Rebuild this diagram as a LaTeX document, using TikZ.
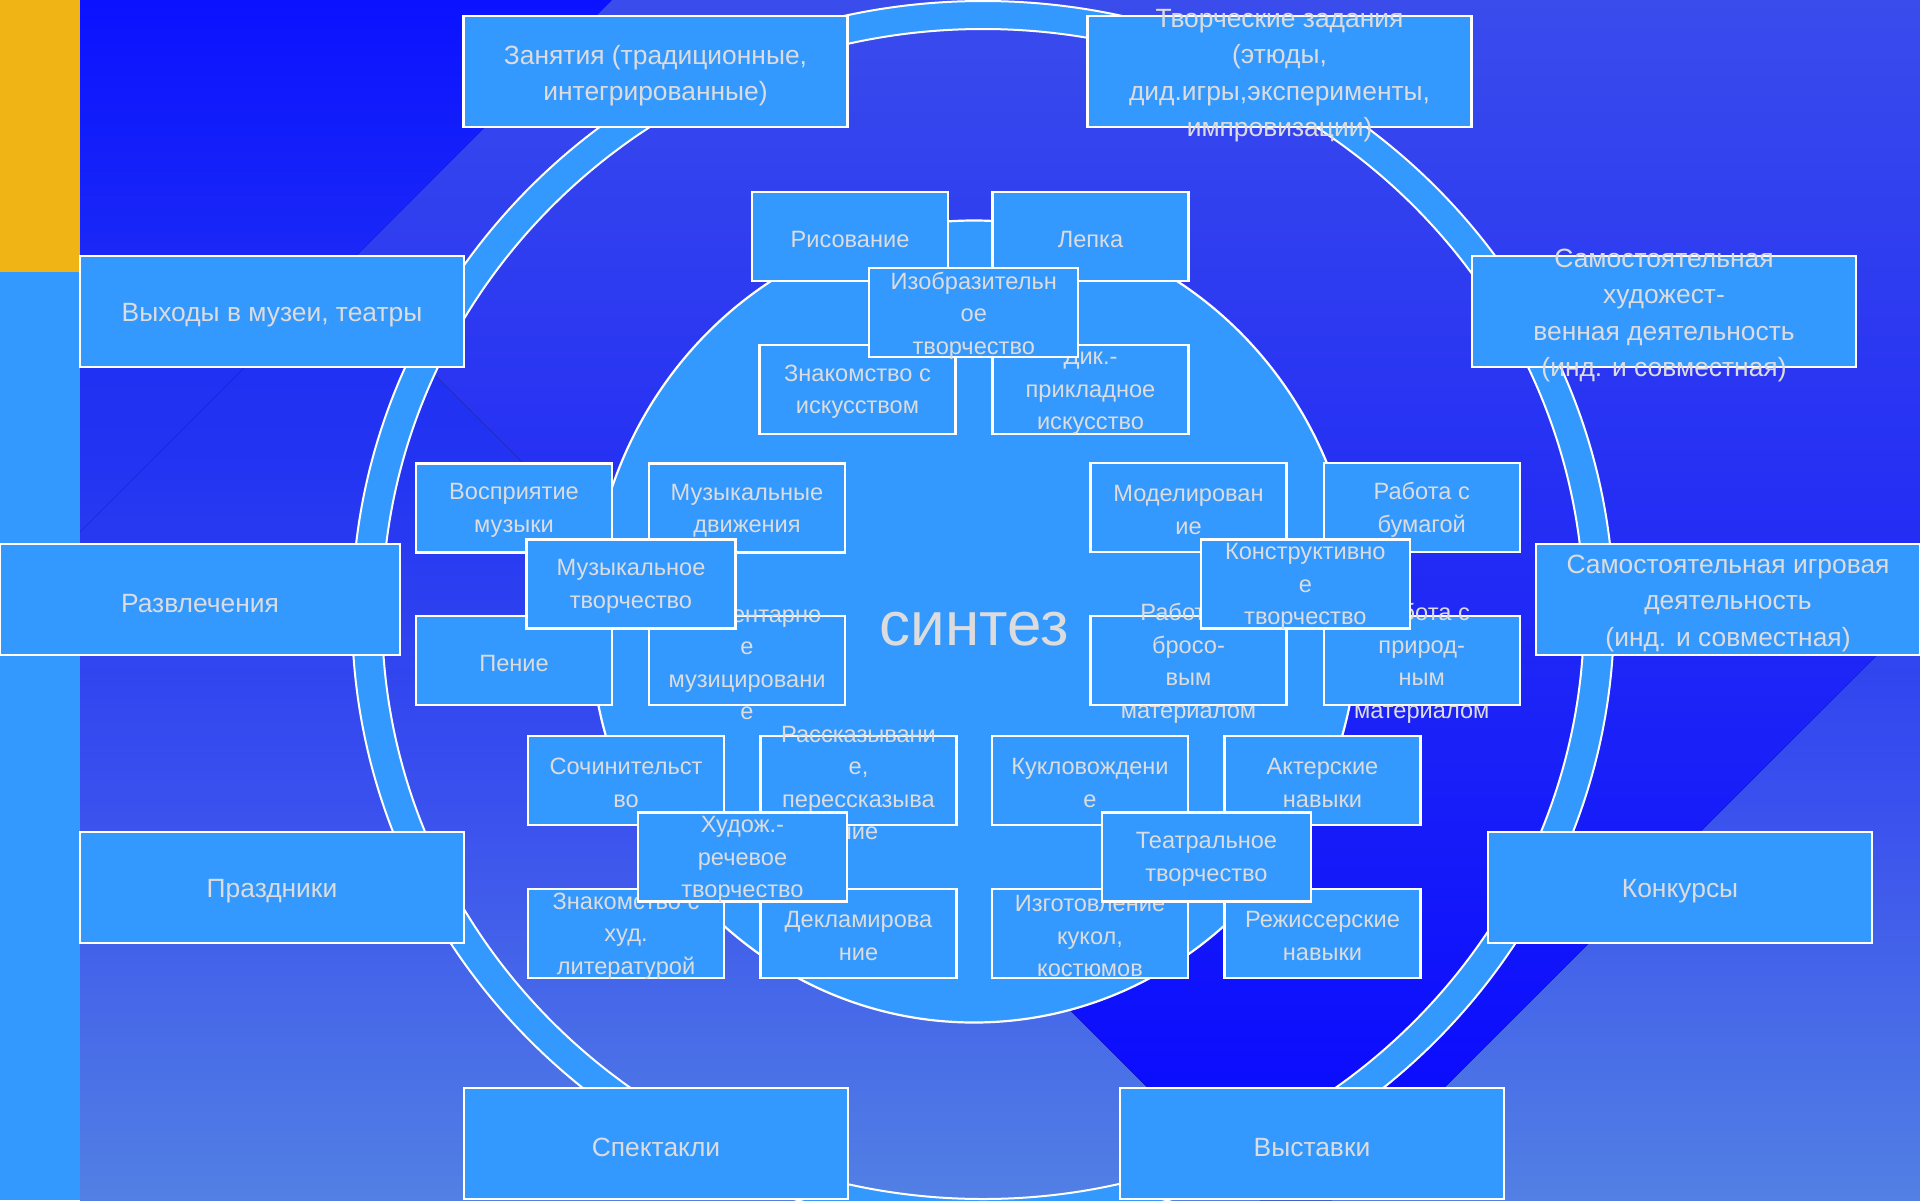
\documentclass[tikz,border=0pt]{standalone}
\usepackage{fontspec}
\setmainfont{Liberation Sans}
\usepackage{xcolor}
\usepackage{tikz}

\definecolor{boxblue}{RGB}{51,153,255}
\definecolor{txtgray}{RGB}{220,220,222}
\definecolor{stripor}{RGB}{240,180,20}
\definecolor{bgtop}{RGB}{26,40,246}
\definecolor{bgdk}{RGB}{34,51,242}
\definecolor{bgmid}{RGB}{58,80,238}
\definecolor{bgbot}{RGB}{82,128,228}
\definecolor{darktop}{RGB}{10,18,255}
\definecolor{darkmid}{RGB}{33,49,243}
\definecolor{darkbot}{RGB}{40,58,241}
\definecolor{bandtop}{RGB}{58,76,236}
\definecolor{bandbot}{RGB}{6,6,255}

\pgfdeclareverticalshading{bgshade}{100bp}{color(0bp)=(bgbot); color(25bp)=(bgbot); color(41.67bp)=(bgmid); color(56.25bp)=(bgdk); color(75bp)=(bgtop); color(100bp)=(bgtop)}
\pgfdeclareverticalshading{dkshade}{100bp}{color(0bp)=(darkbot); color(25bp)=(darkbot); color(32.71bp)=(bgdk); color(40.51bp)=(darkmid); color(75bp)=(darktop); color(100bp)=(darktop)}

\begin{document}
\begin{tikzpicture}[x=1pt,y=-1pt,
	obox/.style={draw=white,line width=2.2pt,fill=boxblue,inner sep=0pt,minimum width=384pt,minimum height=111pt},
	ibox/.style={draw=white,line width=2.2pt,fill=boxblue,inner sep=0pt,minimum width=196pt,minimum height=89pt},
	cbox/.style={ibox,minimum width=209pt},
	otxt/.style={text=txtgray,align=center,inner sep=0pt,yshift=-4pt,font=\fontsize{26.4}{36.5}\selectfont},
	itxt/.style={text=txtgray,align=center,inner sep=0pt,yshift=-2.5pt,font=\fontsize{23.6}{32.5}\selectfont}]

	\useasboundingbox (0,0) rectangle (1920,1200);

	% background
	\fill[shading=bgshade] (80,0) rectangle (1920,1200);
	\fill[shading=dkshade] (80,0) -- (612,0) -- (80,532) -- cycle;
	\fill[top color=bandtop,bottom color=bandbot] (612,0) -- (1920,0) -- (1920,612) -- (1332,1200) -- (1260,1200) -- (336,276) -- cycle;
	\fill[stripor] (0,0) rectangle (80,272);
	\fill[boxblue] (0,272) rectangle (80,1200);

	% ring and inner circle
	\fill[boxblue,even odd rule] (983,614) ellipse [x radius=631,y radius=613] (983,614) ellipse [x radius=601,y radius=585];
	\draw[white,line width=2pt] (983,614) ellipse [x radius=631,y radius=613];
	\draw[white,line width=2pt] (983,614) ellipse [x radius=601,y radius=585];
	\draw[white,line width=2.2pt,fill=boxblue] (974,621.5) ellipse [x radius=384,y radius=401];
	\node[text=txtgray,inner sep=0pt,font=\fontsize{62}{70}\selectfont] (sint) at (974,629) {синтез};

	% outer boxes
	\node[obox] (zan) at (655.5,71.5) {};
	\node[otxt] (zan-t) at (zan) {Занятия (традиционные,\\интегрированные)};
	\node[obox] (tvor) at (1279.5,71.5) {};
	\node[otxt] (tvor-t) at (tvor) {Творческие задания\\(этюды,\\дид.игры,эксперименты,\\импровизации)};
	\node[obox] (vyh) at (272,311.5) {};
	\node[otxt] (vyh-t) at (vyh) {Выходы в музеи, театры};
	\node[obox] (samh) at (1664,311.5) {};
	\node[otxt] (samh-t) at (samh) {Самостоятельная\\художест-\\венная деятельность\\(инд. и совместная)};
	\node[obox,minimum width=400pt] (razv) at (200,599.5) {};
	\node[otxt] (razv-t) at (razv) {Развлечения};
	\node[obox] (samig) at (1728,599.5) {};
	\node[otxt] (samig-t) at (samig) {Самостоятельная игровая\\деятельность\\(инд. и совместная)};
	\node[obox] (prazd) at (272,887.5) {};
	\node[otxt] (prazd-t) at (prazd) {Праздники};
	\node[obox] (konk) at (1680,887.5) {};
	\node[otxt] (konk-t) at (konk) {Конкурсы};
	\node[obox] (spek) at (656,1143.5) {};
	\node[otxt] (spek-t) at (spek) {Спектакли};
	\node[obox] (vyst) at (1312,1143.5) {};
	\node[otxt] (vyst-t) at (vyst) {Выставки};

	% art
	\node[ibox] (risov) at (850,236.5) {};
	\node[itxt] (risov-t) at (risov) {Рисование};
	\node[ibox] (lepka) at (1090.5,236.5) {};
	\node[itxt] (lepka-t) at (lepka) {Лепка};
	\node[ibox] (znisk) at (857.5,389.3) {};
	\node[itxt] (znisk-t) at (znisk) {Знакомство с\\искусством};
	\node[ibox] (dekpr) at (1090.5,389.3) {};
	\node[itxt] (dekpr-t) at (dekpr) {Дик.-\\прикладное\\искусство};
	\node[cbox] (izo) at (973.8,312.8) {};
	\node[itxt] (izo-t) at (izo) {Изобразительн\\ое\\творчество};

	% music
	\node[ibox] (vospr) at (514,508) {};
	\node[itxt] (vospr-t) at (vospr) {Восприятие\\музыки};
	\node[ibox] (dvizh) at (747,508) {};
	\node[itxt] (dvizh-t) at (dvizh) {Музыкальные\\движения};
	\node[ibox] (penie) at (514,660.5) {};
	\node[itxt] (penie-t) at (penie) {Пение};
	\node[ibox] (elem) at (747,660.5) {};
	\node[itxt] (elem-t) at (elem) {Элементарно\\е\\музицировани\\е};
	\node[cbox] (muztv) at (631,584) {};
	\node[itxt] (muztv-t) at (muztv) {Музыкальное\\творчество};

	% construction
	\node[ibox] (model) at (1188.5,507.5) {};
	\node[itxt] (model-t) at (model) {Моделирован\\ие};
	\node[ibox] (bumag) at (1421.7,507.5) {};
	\node[itxt] (bumag-t) at (bumag) {Работа с\\бумагой};
	\node[ibox] (broso) at (1188.5,660.7) {};
	\node[itxt] (broso-t) at (broso) {Работа с\\бросо-\\вым\\материалом};
	\node[ibox] (prirod) at (1421.7,660.7) {};
	\node[itxt] (prirod-t) at (prirod) {Работа с\\природ-\\ным\\материалом};
	\node[cbox] (konstr) at (1305.3,584) {};
	\node[itxt] (konstr-t) at (konstr) {Конструктивно\\е\\творчество};

	% speech
	\node[ibox] (sochin) at (626,780.5) {};
	\node[itxt] (sochin-t) at (sochin) {Сочинительст\\во};
	\node[ibox] (rassk) at (858.5,780.5) {};
	\node[itxt] (rassk-t) at (rassk) {Рассказывани\\е,\\перессказыва\\ние};
	\node[ibox] (znlit) at (626,933.5) {};
	\node[itxt] (znlit-t) at (znlit) {Знакомство с\\худ.\\литературой};
	\node[ibox] (deklam) at (858.5,933.5) {};
	\node[itxt] (deklam-t) at (deklam) {Декламирова\\ние};
	\node[cbox] (hudrech) at (742.5,857) {};
	\node[itxt] (hudrech-t) at (hudrech) {Худож.-\\речевое\\творчество};

	% theatre
	\node[ibox] (kukl) at (1090,780.5) {};
	\node[itxt] (kukl-t) at (kukl) {Кукловождени\\е};
	\node[ibox] (akter) at (1322.5,780.5) {};
	\node[itxt] (akter-t) at (akter) {Актерские\\навыки};
	\node[ibox] (izgot) at (1090,933.5) {};
	\node[itxt] (izgot-t) at (izgot) {Изготовление\\кукол,\\костюмов};
	\node[ibox] (rezh) at (1322.5,933.5) {};
	\node[itxt] (rezh-t) at (rezh) {Режиссерские\\навыки};
	\node[cbox] (teatr) at (1206.5,857) {};
	\node[itxt] (teatr-t) at (teatr) {Театральное\\творчество};

\end{tikzpicture}
\end{document}
